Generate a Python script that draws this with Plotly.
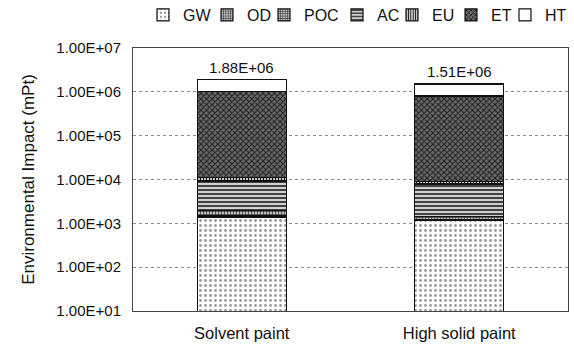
import math
import plotly.graph_objects as go

categories = ["Solvent paint", "High solid paint"]
series_names = ["GW", "OD", "POC", "AC", "EU", "ET", "HT"]
GW = [1400, 1150]
OD = [100, 80]
POC = [500, 180]
AC = [7250, 6500]
EU = [1750, 1190]
ET = [989000, 790900]
HT = [880000, 710000]
totals = [1.88e6, 1.51e6]
tick_values = [1e1, 1e2, 1e3, 1e4, 1e5, 1e6, 1e7]
tick_labels = ["1.00E+01", "1.00E+02", "1.00E+03", "1.00E+04", "1.00E+05", "1.00E+06", "1.00E+07"]

series_values = [GW, OD, POC, AC, EU, ET, HT]

styles = [
    dict(shape=".", fgcolor="#9a9a9a", bgcolor="#ffffff", size=5, solidity=0.25),
    dict(shape=".", fgcolor="#333333", bgcolor="#d8d8d8", size=3, solidity=0.45),
    dict(shape="+", fgcolor="#333333", bgcolor="#bdbdbd", size=3, solidity=0.4),
    dict(shape="-", fgcolor="#333333", bgcolor="#d0d0d0", size=4, solidity=0.45),
    dict(shape="|", fgcolor="#111111", bgcolor="#ffffff", size=3, solidity=0.5),
    dict(shape="x", fgcolor="#1e1e1e", bgcolor="#6a6a6a", size=4, solidity=0.45),
    None,
]

L, R, T, B = 133, 6, 48, 36
W, H = 574, 347
pw = W - L - R
ph = H - T - B
legend_px = [143, 207, 264, 337, 392, 451, 505]

FONT = "Liberation Sans, Arial"

fig = go.Figure()
legend_layout = {}
for i, (name, vals, st) in enumerate(zip(series_names, series_values, styles)):
    lname = "legend" if i == 0 else f"legend{i+1}"
    marker = dict(color="#ffffff" if st is None else st["bgcolor"],
                  line=dict(color="#111111", width=1.2))
    if st is not None:
        marker["pattern"] = dict(shape=st["shape"], fgcolor=st["fgcolor"], bgcolor=st["bgcolor"],
                                 size=st["size"], solidity=st["solidity"], fillmode="replace")
    fig.add_trace(go.Bar(x=categories, y=vals, name=name, marker=marker,
                         legend=lname, showlegend=True))
    legend_layout[lname] = dict(
        x=(legend_px[i] - L) / pw, xanchor="left",
        y=(H - B - 15) / ph, yanchor="middle",
        orientation="h", bgcolor="rgba(0,0,0,0)",
        font=dict(family=FONT, size=16, color="#111111"),
    )

annotations = []
for c, t in zip(categories, totals):
    annotations.append(dict(x=c, y=math.log10(t), text=f"{t:.2E}", showarrow=False,
                            yanchor="bottom", yshift=2,
                            font=dict(family=FONT, size=15, color="#111111")))

fig.update_layout(
    width=W, height=H,
    margin=dict(l=L, r=R, t=T, b=B, autoexpand=False),
    barmode="stack", bargap=0.59,
    showlegend=True,
    plot_bgcolor="#ffffff", paper_bgcolor="#ffffff",
    annotations=annotations,
    **legend_layout,
)
fig.update_xaxes(
    showline=True, mirror=True, linecolor="#444444", linewidth=1,
    ticks="", ticklabelstandoff=7,
    tickfont=dict(family=FONT, size=16.5, color="#111111"),
)
fig.update_yaxes(
    type="log", range=[1, 7],
    tickvals=tick_values, ticktext=tick_labels,
    showline=True, mirror=True, linecolor="#444444", linewidth=1,
    showgrid=True, gridcolor="#8a8a8a", griddash="dot", gridwidth=1,
    ticks="", ticklabelstandoff=8,
    tickfont=dict(family=FONT, size=15, color="#111111"),
    title=dict(text="Environmental Impact (mPt)", standoff=17,
               font=dict(family=FONT, size=17, color="#111111")),
    zeroline=False,
)

fig.write_html("out.html", config={"displayModeBar": False},
               post_script="document.body.style.margin='0px';")
